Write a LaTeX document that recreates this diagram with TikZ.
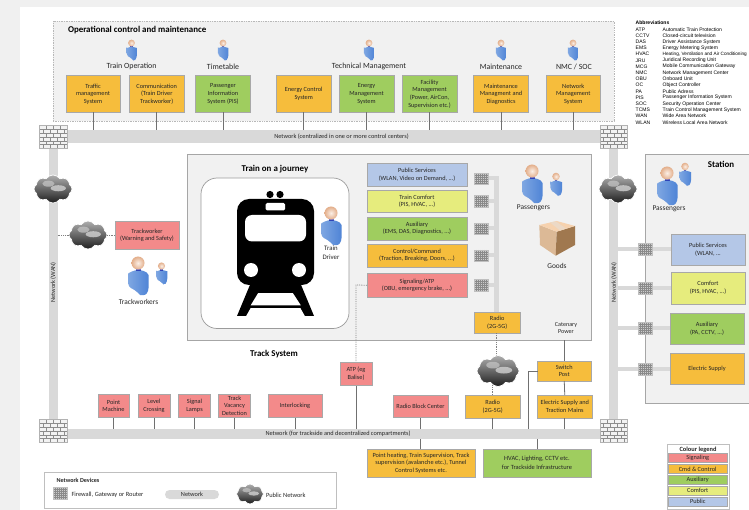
\documentclass[tikz,border=0pt]{standalone}
\usepackage{fontspec}
\setmainfont{Carlito}
\newfontfamily\abbrfont{Liberation Sans}
\usetikzlibrary{shapes.symbols,shadings}
\definecolor{cred}{HTML}{F38A8A}
\definecolor{corange}{HTML}{F6BD3C}
\definecolor{cgreen}{HTML}{9FCD5F}
\definecolor{cyellow}{HTML}{E6EC7D}
\definecolor{cblue}{HTML}{B4C7E7}
\definecolor{cpanel}{HTML}{F1F1F1}
\definecolor{cbar}{HTML}{D9D9D9}
\definecolor{cedge}{HTML}{A8A8A8}
\definecolor{cline}{HTML}{707070}
\definecolor{skinin}{HTML}{FBEFE6}
\definecolor{skinout}{HTML}{E3AE8A}
\definecolor{bodya}{HTML}{7FA7E2}
\definecolor{bodyb}{HTML}{C3D6F2}
\definecolor{bodyc}{HTML}{4F84D6}
\tikzset{
  x=1pt,y=-1pt,
  base/.style={inner sep=0pt,outer sep=0pt,align=center,font=\fontsize{6.3}{7.6}\selectfont,text=black!85},
  sys/.style={base,draw=cedge,line width=.9pt},
  redbox/.style={sys,fill=cred},
  orangebox/.style={sys,fill=corange},
  greenbox/.style={sys,fill=cgreen},
  yellowbox/.style={sys,fill=cyellow},
  bluebox/.style={sys,fill=cblue},
  panel/.style={base,draw=black!28,densely dotted,line width=.7pt,fill=cpanel},
  netbar/.style={base,fill=cbar,font=\fontsize{6.3}{7}\selectfont},
  label/.style={inner sep=0pt,outer sep=0pt,align=center,text=black!85,font=\fontsize{7.9}{9.4}\selectfont},
  small/.style={label,font=\fontsize{6.1}{7.6}\selectfont},
  person label/.style={label,font=\fontsize{7.4}{9}\selectfont},
  legend text/.style={label,font=\fontsize{6.4}{7.5}\selectfont},
  heading/.style={label,font=\fontsize{8.9}{10.5}\selectfont\bfseries,text=black},
  abbrtext/.style={anchor=west,inner sep=0pt,font=\abbrfont\fontsize{5.05}{6}\selectfont},
  firewall/.style={base,draw=black!30,line width=.4pt,fill=black!5,path picture={
    \foreach \r in {0,...,5}{
      \draw[black!45,line width=.35pt] ([yshift=-\r*3.83pt]path picture bounding box.north west) -- ([yshift=-\r*3.83pt]path picture bounding box.north east);
      \pgfmathsetmacro\off{mod(\r,2)*3.5}
      \foreach \c in {0,1,2,3}{
        \draw[black!45,line width=.35pt] ([xshift=\off pt+\c*7pt,yshift=-\r*3.83pt]path picture bounding box.north west) -- ++(0,3.83);
      }
    }}},
  router/.style={base,fill=black!20,draw=black!25,line width=.3pt,path picture={
    \foreach \r in {1,...,5}{
      \draw[black!46,line width=.4pt] ([yshift=-\r*2pt]path picture bounding box.north west) -- ([yshift=-\r*2pt]path picture bounding box.north east);}
    \foreach \c in {1,...,6}{
      \draw[black!46,line width=.4pt] ([xshift=\c*2pt]path picture bounding box.north west) -- ([xshift=\c*2pt]path picture bounding box.south west);}
    }},
  darkcloud/.style={cloud,cloud puffs=8,cloud puff arc=115,aspect=1.3,inner sep=0pt,outer sep=0pt,
    draw=white,line width=.7pt,top color=black!32,middle color=black!48,bottom color=black!88,
    path picture={
      \fill[black!18,opacity=.8] ([xshift=.14*\cloudw pt,yshift=.02*\cloudw pt]path picture bounding box.center) ellipse (.2*\cloudw pt and .08*\cloudw pt);
      \fill[black!22,opacity=.7] ([xshift=-.12*\cloudw pt,yshift=.14*\cloudw pt]path picture bounding box.center) ellipse (.16*\cloudw pt and .08*\cloudw pt);}},
  link/.style={cline,line width=.8pt},
  dotlink/.style={black!50,densely dotted,line width=.8pt},
  pics/person/.style={code={
    \shade[left color=bodya,middle color=bodyb,right color=bodyc,draw=none,rounded corners=3pt]
       (-9.5,24) -- (-10,14) .. controls (-10,10) and (-6,8.5) .. (-3,7)
       -- (3,7) .. controls (7,8.5) and (10.5,10) .. (10.5,15) -- (10.5,28)
       .. controls (7,33) and (2,32) .. (0,30) -- (-3,27) -- cycle;
    \fill[blue!60!black,opacity=.55] (-2.5,6) rectangle (2.5,8.5);
    \shade[inner color=skinin,outer color=skinout] (0,0) circle (6.5);
  }},
}
\newcommand{\bx}[7][base]{%
  \pgfmathsetmacro\cxx{((#3)+(#5))/2}\pgfmathsetmacro\cyy{((#4)+(#6))/2}%
  \pgfmathsetmacro\wdd{(#5)-(#3)}\pgfmathsetmacro\htt{(#6)-(#4)}%
  \node[#1,minimum width=\wdd pt,minimum height=\htt pt] (#2) at (\cxx,\cyy) {#7};}
\newcommand{\cld}[4]{% name cx cy w
  \def\cloudw{#4}%
  \node[darkcloud,minimum width=#4 pt,minimum height=.74*#4 pt] (#1) at (#2,#3) {};}
\begin{document}
\begin{tikzpicture}
\useasboundingbox (0,0) rectangle (749,510);
\fill[black!6] (0,0) rectangle (749,510);
\fill[white] (20,7) rectangle (749,510);

% panels
\bx[panel]{opsp}{53}{21}{614}{121}{}
\bx[panel,draw=black!35,solid]{trainp}{187.5}{154}{591}{340}{}
\bx[panel,draw=black!35,solid,line width=.5pt]{stationp}{645}{154}{760}{403}{}

% abbreviations
\node[abbrtext,font=\abbrfont\fontsize{5.05}{6}\selectfont\bfseries] (abbr) at (635.5,23) {Abbreviations};
\foreach \k/\v [count=\i from 0] in {ATP/Automatic Train Protection,CCTV/Closed-circuit television,DAS/Driver Assistance System,EMS/Energy Metering System,HVAC/{\fontsize{4.7}{6}\selectfont Heating, Ventilation and Air Conditioning},JRU/Juridical Recording Unit,MCG/Mobile Communication Gateway,NMC/Network Management Center,OBU/Onboard Unit,OC/Object Controller,PA/Public Adress,PIS/Passenger Information System,SOC/Security Operation Center,TCMS/Train Control Management System,WAN/Wide Area Network,WLAN/Wireless Local Area Network}{
  \node[abbrtext] (abk\i) at (635.5,29.3+6.2*\i) {\k};
  \node[abbrtext] (abv\i) at (662.5,29.3+6.2*\i) {\v};
}

% network bars
\bx[netbar]{topnet}{60}{130.5}{606}{143.5}{\hspace*{17pt}Network (centralized in one or more control centers)}
\bx[netbar]{botnet}{60}{429}{606}{439}{\hspace*{10pt}Network (for trackside and decentralized compartments)}
\bx[netbar]{wanl}{49}{140}{57.5}{425}{}
\bx[netbar]{wanr}{609}{140}{618}{425}{}
\node[label,rotate=90,font=\fontsize{6.3}{7}\selectfont] (wanltext) at (53.2,282.5) {Network (WAN)};
\node[label,rotate=90,font=\fontsize{6.3}{7}\selectfont] (wanrtext) at (614,282.5) {Network (WAN)};

% firewalls
\bx[firewall]{fwtl}{39.5}{125.5}{67}{148.5}{}
\bx[firewall]{fwtr}{600}{125.5}{627.5}{148.5}{}
\bx[firewall]{fwbl}{39.5}{419.5}{67}{442.5}{}
\bx[firewall]{fwbr}{600}{419.5}{627.5}{442.5}{}

% ops
\node[heading,anchor=west] (opstitle) at (68,30.5) {Operational control and maintenance};
\node[label] (lto) at (131.6,66.3) {Train Operation};
\node[label] (ltt) at (223,66.3) {Timetable};
\node[label] (ltm) at (369,66.3) {Technical Management};
\node[label] (lmt) at (501,67) {Maintenance};
\node[label] (lnm) at (574,67) {NMC / SOC};
\foreach \px in {131.5,223,369,501,573}{\pic[scale=.52] at (\px,43) {person};}
\bx[orangebox]{traffic}{66}{75.5}{120}{112.5}{Traffic\\management\\System}
\bx[orangebox]{comm}{129.5}{75.5}{184}{112.5}{Communication\\(Train Driver\\Trackworker)}
\bx[greenbox]{pisb}{195.5}{75.5}{250.5}{112.5}{Passenger\\Information\\System (PIS)}
\bx[orangebox]{ecs}{276.5}{75.5}{331}{112.5}{Energy Control\\System}
\bx[greenbox]{ems}{339}{75.5}{394}{112.5}{Energy\\Management\\System}
\bx[greenbox]{fac}{402}{75.5}{457}{112.5}{Facility\\Management\\(Power, AirCon,\\Supervision etc.)}
\bx[orangebox]{mnt}{473.5}{75.5}{528.5}{112.5}{Maintenance\\Managment and\\Diagnostics}
\bx[orangebox]{nms}{546}{75.5}{600.5}{112.5}{Network\\Management\\System}
\foreach \n in {traffic,comm,pisb,ecs,ems,fac,mnt,nms}{
  \draw[link] (\n.south) -- (\n.south |- topnet.north);
}

% train
\node[heading] (traintitle) at (275,169) {Train on a journey};
\draw[cline!70,line width=.7pt,fill=white,rounded corners=16pt] (201,178) rectangle (349,328.5);
\fill[black] (270,194.5) circle (3.6) (280,194.5) circle (3.6);
\fill[black,rounded corners=12pt] (237,199) rectangle (314,285);
\fill[black,even odd rule] (252,280) -- (237,316) -- (246,316) -- (250.5,308) -- (300.5,308) -- (305,316) -- (314,316) -- (299,280) -- cycle
   (258,293) -- (293,293) -- (301,305.3) -- (250.5,305.3) -- cycle;
\fill[white,rounded corners=1.5pt] (265.5,203) rectangle (285,210.5);
\fill[white,rounded corners=7pt] (245,215) rectangle (306,241.5);
\fill[white] (251,270) circle (7) (299,270) circle (7);
\pic at (331,213) {person};
\node[small,font=\fontsize{6.8}{8.8}\selectfont] (driver) at (331,253) {Train\\Driver};

\bx[netbar]{tbus}{494}{176}{499}{313}{}
\foreach \nm/\st/\ya/\yb/\t/\rr [count=\i] in {
  tpub/bluebox/163/186/{Public Services\\(WLAN, Video on Demand, ...)}/178.5,
  tcom/yellowbox/190/212.5/{Train Comfort\\(PIS, HVAC, ...)}/201,
  taux/greenbox/217/240/{Auxiliary\\(EMS, DAS, Diagnostics, ...)}/228.5,
  tctl/orangebox/244/267/{Control/Command\\(Traction, Breaking, Doors, ...)}/255.5,
  tsig/redbox/273/297.5/{Signaling/ATP\\(OBU, emergency brake, ...)}/285}{
  \bx[\st]{\nm}{367}{\ya}{467}{\yb}{\t}
  \bx[router]{tr\i}{474.5}{\rr-5.7}{488.5}{\rr+5.7}{}
  \draw[cbar,line width=4pt] (tr\i.east) -- (tr\i.east -| tbus.west);
}
\bx[orangebox]{tradio}{474.5}{312.5}{520}{333}{Radio\\(2G-5G)}
\node[small] (catenary) at (566,328) {Catenary\\Power};
\pic at (532,171) {person};
\pic[scale=.58] at (556,176.5) {person};
\node[person label] (pas1) at (533.5,208) {Passengers};
% goods
\fill[brown!55!white] (539.3,225) -- (556.7,231.7) -- (555.7,255.7) -- (540,245) -- cycle;
\fill[brown!75!black!85] (556.7,231.7) -- (575,226) -- (575,245) -- (555.7,255.7) -- cycle;
\fill[brown!40!orange!35] (539.3,225) -- (556.7,221) -- (575,226) -- (556.7,231.7) -- cycle;
\fill[brown!30!white] (550,222.5) -- (556,221.5) -- (566,228.5) -- (560,230.5) -- cycle;
\node[person label] (goods) at (557,265.5) {Goods};

% station
\node[heading] (stitle) at (721,164.3) {Station};
\pic at (667,173) {person};
\pic[scale=.58] at (685,166.5) {person};
\node[person label] (pas2) at (669,208.5) {Passengers};
\foreach \nm/\st/\xa/\xb/\ya/\yb/\t/\rr [count=\i] in {
  spub/bluebox/671/745/234/265/{Public Services\\(WLAN, ...}/249,
  scom/yellowbox/671/745/272/304/{Comfort\\(PIS, HVAC, ...)}/288,
  saux/greenbox/670/744/313/344/{Auxiliary\\(PA, CCTV, ...)}/328,
  sele/orangebox/670/744/353/384/{Electric Supply}/369}{
  \bx[\st]{\nm}{\xa}{\ya}{\xb}{\yb}{\t}
  \coordinate (sp\i) at (640,\rr);
  \draw[cbar,line width=4.6pt] (wanr.east |- sp\i) -- (\nm.west |- sp\i);
  \bx[router]{sr\i}{638}{\rr-6}{652}{\rr+6}{}
}

% clouds
\cld{cl}{53}{189}{38}
\cld{cr}{618}{189}{38}

% trackworker
\bx[redbox]{tw}{115}{221}{179}{249.5}{Trackworker\\(Warning and Safety)}
\cld{cm}{88}{235}{38}
\draw[dotlink] (wanl.east |- tw.west) -- (cm.west |- tw.west);
\draw[dotlink] (cm.east |- tw.west) -- (tw.west);
\pic at (138,263) {person};
\pic[scale=.55] at (161.5,266) {person};
\node[person label] (twl) at (138.5,302) {Trackworkers};

% track system
\node[heading] (tracktitle) at (274,354) {Track System};
\bx[redbox]{pm}{98}{394}{129}{417.5}{Point\\Machine}
\bx[redbox]{lc}{138}{394}{170}{417.5}{Level\\Crossing}
\bx[redbox]{sl}{178.5}{394}{210.5}{417.5}{Signal\\Lamps}
\bx[redbox]{tv}{218.5}{394}{250.5}{417.5}{Track\\Vacancy\\Detection}
\bx[redbox]{il}{268}{394}{322}{417.5}{Interlocking}
\bx[redbox]{atp}{340}{362}{372}{385.5}{ATP (eg\\Balise)}
\bx[redbox]{rbc}{393}{395}{448}{417.5}{Radio Block Center}
\bx[orangebox]{rad}{465.5}{395}{520}{418}{Radio\\(2G-5G)}
\bx[orangebox]{sw}{537.5}{361}{591}{381}{Switch\\Post}
\bx[orangebox]{es}{537.5}{395}{592}{418}{Electric Supply and\\Traction Mains}
\bx[orangebox]{ph}{367}{449}{475}{477}{Point heating, Train Supervision, Track\\supervision (avalanche etc.), Tunnel\\Control Systems etc.}
\bx[greenbox,font=\fontsize{6.4}{8.6}\selectfont]{hv}{483}{449}{591}{477}{HVAC, Lighting, CCTV etc.\\for Trackside Infrastructure}
\foreach \n in {pm,lc,sl,tv,il,atp,rbc,rad,es}{
  \draw[link] (\n.south) -- (\n.south |- botnet.north);
}
\coordinate (phtop) at (420.5,449);
\coordinate (catfree) at (564.5,340);
\draw[link] (phtop) -- (phtop |- botnet.south);
\draw[link] (hv.north) -- (hv.north |- botnet.south);
\draw[link] (catfree) -- (catfree -| sw.north) -- (sw.north);
\draw[link] (sw.south) -- (es.north);
\coordinate (swelbow) at (528,371);
\draw[link] (sw.west) -- (swelbow) -- (swelbow |- botnet.north);
% ATP dotted, radio
\coordinate (atpelbow) at (356,285);
\draw[dotlink] (tsig.west) -- (atpelbow) -- (atp.north);
\draw[dotlink] (tradio.south -| tbus.south) -- ++(0,30);
\draw[dotlink] (rad.north) -- ++(0,-12);
\cld{crad}{498}{371}{42}

% legend devices
\bx[base,draw=black!25,line width=.8pt,fill=white]{devleg}{44}{472}{336}{508}{}
\node[label,font=\fontsize{6.1}{7}\selectfont\bfseries] (devt) at (78,480.5) {Network Devices};
\bx[router]{lgr}{53.5}{487}{67.5}{499}{}
\node[legend text,anchor=west] (lgrt) at (71.5,494.5) {Firewall, Gateway or Router};
\node[netbar,rounded corners=4.5pt,minimum width=54pt,minimum height=9pt] (lgn) at (192,494.5) {Network};
\cld{lgc}{250}{494}{27}
\node[legend text,anchor=west] (lgct) at (266,495) {Public Network};

% legend colours
\bx[base,draw=black!25,line width=.8pt,fill=white]{colleg}{667}{444}{729}{509}{}
\node[legend text,font=\fontsize{6.4}{7.5}\selectfont\bfseries] (colt) at (698,449.5) {Colour legend};
\bx[redbox]{ls}{668.5}{453.5}{727}{462.5}{Signaling}
\bx[orangebox]{lo}{668.5}{464.5}{727}{473.5}{Cmd \& Control}
\bx[greenbox]{la}{668.5}{475.5}{727}{484.5}{Auxiliary}
\bx[yellowbox]{lc2}{668.5}{486.3}{727}{495.3}{Comfort}
\bx[bluebox]{lp}{668.5}{497.2}{727}{506.2}{Public}
\end{tikzpicture}
\end{document}
